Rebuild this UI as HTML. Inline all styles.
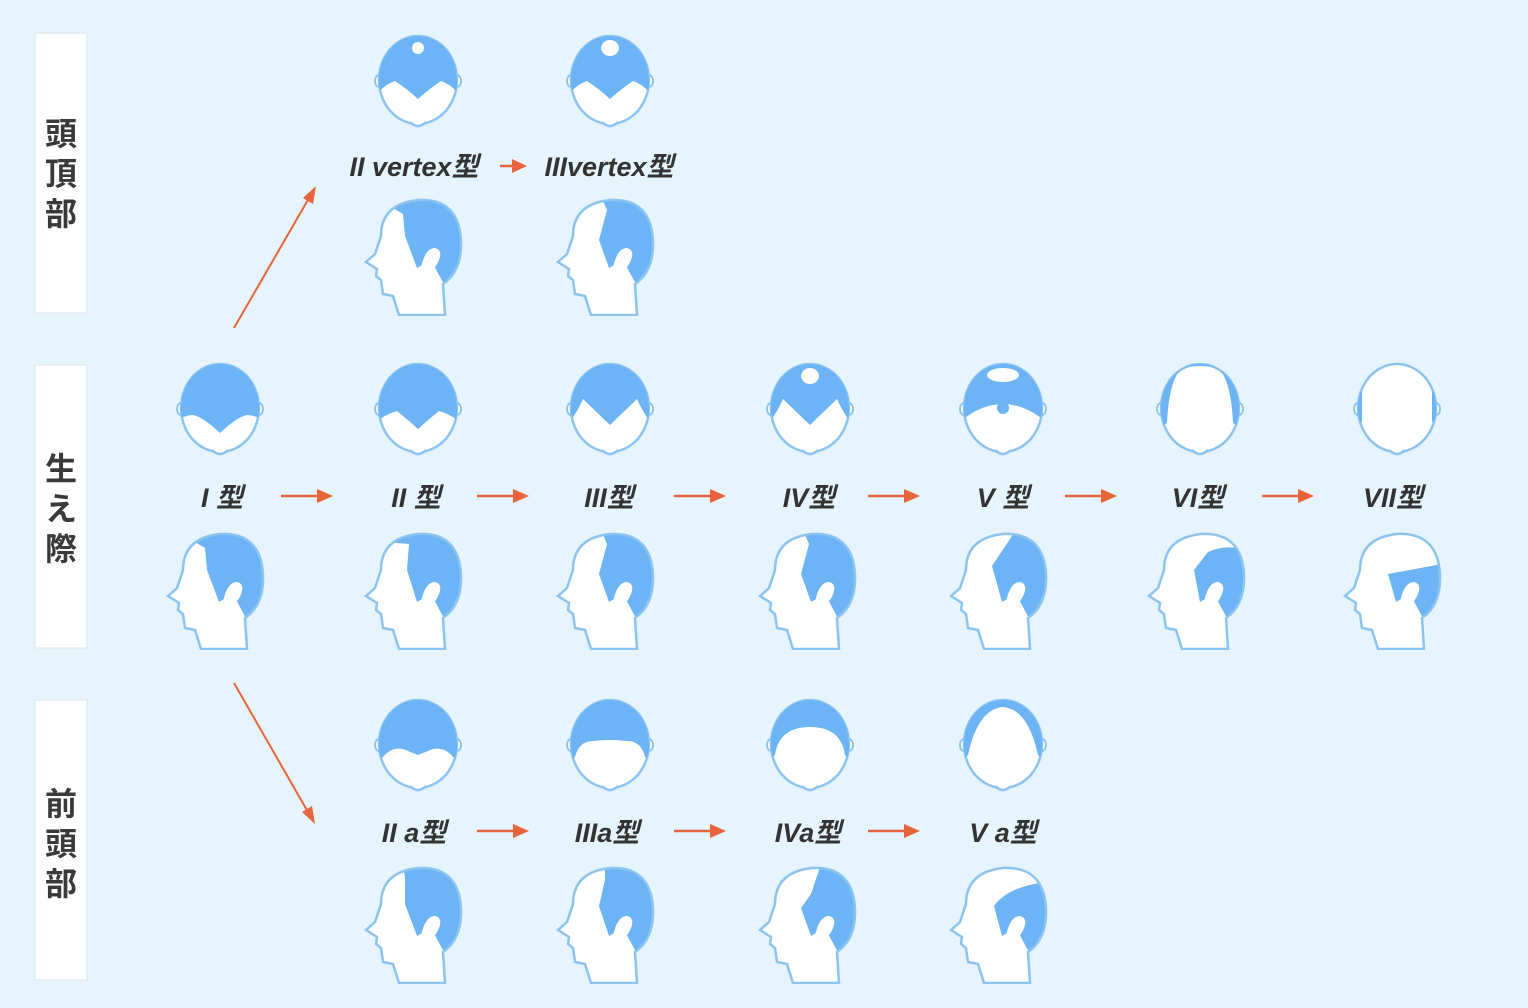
<!DOCTYPE html>
<html><head><meta charset="utf-8"><style>
html,body{margin:0;padding:0;background:#e6f4fd;}
svg{display:block}
.lb{font-family:"Liberation Sans","Noto Sans CJK JP",sans-serif;font-weight:bold;font-style:italic;font-size:27px;fill:#333;text-anchor:middle}
.vt{font-family:"Liberation Sans","Noto Sans CJK JP",sans-serif;font-weight:bold;font-size:32px;fill:#3a3a3a;text-anchor:middle}
</style></head><body>
<svg width="1528" height="1008" viewBox="0 0 1528 1008" xmlns="http://www.w3.org/2000/svg">
<defs>
<clipPath id="tc"><ellipse cx="45" cy="47" rx="39" ry="44"/></clipPath>
<clipPath id="sc"><path d="M36,119 L30,100 L20,98 L18,84 L13,80 L14,73 L3,66 L12,58 L18,40 Q18,8 55,4 Q96,2 98,45 Q99,75 80,88 L82,119Z"/></clipPath>
<g id="tbase">
<ellipse cx="6" cy="48" rx="4" ry="6" fill="#fff" stroke="#8cc4f0" stroke-width="2"/>
<ellipse cx="84" cy="48" rx="4" ry="6" fill="#fff" stroke="#8cc4f0" stroke-width="2"/>
<ellipse cx="45" cy="47" rx="39" ry="44" fill="#fff" stroke="#8cc4f0" stroke-width="2.5"/>
<path d="M37,89 Q45,97 53,89" fill="#fff" stroke="#8cc4f0" stroke-width="2.5"/>
</g>
<path id="sout" d="M36,119 L30,100 L20,98 L18,84 L13,80 L14,73 L3,66 L12,58 L18,40 Q18,8 55,4 Q96,2 98,45 Q99,75 80,88 L82,119Z" fill="none" stroke="#8cc4f0" stroke-width="2.5"/>
<path id="sbg" d="M36,119 L30,100 L20,98 L18,84 L13,80 L14,73 L3,66 L12,58 L18,40 Q18,8 55,4 Q96,2 98,45 Q99,75 80,88 L82,119Z" fill="#fff"/>
<path id="ear" d="M58,72 Q62,52 72,52 Q80,54 76,64 Q72,74 64,78Z" fill="#fff"/>

<symbol id="t1" viewBox="0 0 90 100"><use href="#tbase"/><path clip-path="url(#tc)" fill="#6cb4f5" d="M0,0H90V62Q82,54 72,54Q62,56 45,72Q28,56 18,54Q8,54 0,62Z"/></symbol>
<symbol id="t2" viewBox="0 0 90 100"><use href="#tbase"/><path clip-path="url(#tc)" fill="#6cb4f5" d="M0,0H90V64Q80,54 66,50Q56,58 45,68Q34,58 24,50Q10,54 0,64Z"/></symbol>
<symbol id="t3" viewBox="0 0 90 100"><use href="#tbase"/><path clip-path="url(#tc)" fill="#6cb4f5" d="M0,0H90V66Q80,56 72,38L45,64L18,38Q10,56 0,66Z"/></symbol>
<symbol id="t2v" viewBox="0 0 90 100"><use href="#tbase"/><path clip-path="url(#tc)" fill="#6cb4f5" d="M0,0H90V66Q80,52 68,48Q56,56 45,66Q34,56 22,48Q10,52 0,66Z"/><ellipse cx="45" cy="15" rx="6" ry="6" fill="#fff"/></symbol>
<symbol id="t3v" viewBox="0 0 90 100"><use href="#tbase"/><path clip-path="url(#tc)" fill="#6cb4f5" d="M0,0H90V66Q80,52 68,48Q56,56 45,66Q34,56 22,48Q10,52 0,66Z"/><ellipse cx="45" cy="15" rx="9" ry="8" fill="#fff"/></symbol>
<symbol id="t4" viewBox="0 0 90 100"><use href="#tbase"/><path clip-path="url(#tc)" fill="#6cb4f5" d="M0,0H90V66Q80,56 72,38L45,64L18,38Q10,56 0,66Z"/><ellipse cx="45" cy="15" rx="9" ry="8" fill="#fff"/></symbol>
<symbol id="t5" viewBox="0 0 90 100"><use href="#tbase"/><path clip-path="url(#tc)" fill="#6cb4f5" d="M0,0H90V66L82,56Q45,30 8,56L0,66Z"/><ellipse cx="45" cy="14" rx="16" ry="7" fill="#fff"/><circle cx="45" cy="47" r="6" fill="#6cb4f5"/></symbol>
<symbol id="t6" viewBox="0 0 90 100"><use href="#tbase"/><path clip-path="url(#tc)" fill="#6cb4f5" d="M0,0H90V70L78,62Q76,20 64,8Q45,2 26,8Q14,20 12,62L0,70Z"/></symbol>
<symbol id="t7" viewBox="0 0 90 100"><use href="#tbase"/><path clip-path="url(#tc)" fill="#6cb4f5" d="M0,30H10V60L6,64H0ZM80,30H90V64H84L80,60Z"/></symbol>
<symbol id="t2a" viewBox="0 0 90 100"><use href="#tbase"/><path clip-path="url(#tc)" fill="#6cb4f5" d="M0,0H90V66L80,60Q72,50 60,52L45,58L30,52Q18,50 10,60L0,66Z"/></symbol>
<symbol id="t3a" viewBox="0 0 90 100"><use href="#tbase"/><path clip-path="url(#tc)" fill="#6cb4f5" d="M0,0H90V66L80,60Q76,44 62,44Q45,42 28,44Q14,44 10,60L0,66Z"/></symbol>
<symbol id="t4a" viewBox="0 0 90 100"><use href="#tbase"/><path clip-path="url(#tc)" fill="#6cb4f5" d="M0,0H90V66L80,58Q76,30 45,30Q14,30 10,58L0,66Z"/></symbol>
<symbol id="t5a" viewBox="0 0 90 100"><use href="#tbase"/><path clip-path="url(#tc)" fill="#6cb4f5" d="M0,0H90V66L80,58Q70,12 45,10Q20,12 10,58L0,66Z"/></symbol>

<symbol id="s1" viewBox="0 0 100 120"><use href="#sbg"/><path clip-path="url(#sc)" fill="#6cb4f5" d="M18,0L100,0V88L82,90L68,64L54,72L42,40L40,18L30,12L18,12Z"/><use href="#ear"/><use href="#sout"/></symbol>
<symbol id="s2" viewBox="0 0 100 120"><use href="#sbg"/><path clip-path="url(#sc)" fill="#6cb4f5" d="M18,0L100,0V88L82,90L68,64L54,72L44,40L46,14L22,12Z"/><use href="#ear"/><use href="#sout"/></symbol>
<symbol id="s3" viewBox="0 0 100 120"><use href="#sbg"/><path clip-path="url(#sc)" fill="#6cb4f5" d="M46,0L100,0V88L82,90L68,64L54,72L44,44L52,14Z"/><use href="#ear"/><use href="#sout"/></symbol>
<symbol id="s5" viewBox="0 0 100 120"><use href="#sbg"/><path clip-path="url(#sc)" fill="#6cb4f5" d="M68,0L100,0V88L82,90L68,64L54,72L44,36Z"/><use href="#ear"/><use href="#sout"/></symbol>
<symbol id="s6" viewBox="0 0 100 120"><use href="#sbg"/><path clip-path="url(#sc)" fill="#6cb4f5" d="M62,22Q80,14 100,20V88L82,90L68,64L54,72L48,40Z"/><use href="#ear"/><use href="#sout"/></symbol>
<symbol id="s7" viewBox="0 0 100 120"><use href="#sbg"/><path clip-path="url(#sc)" fill="#6cb4f5" d="M46,44L100,34V88L82,90L68,64L54,72Z"/><use href="#ear"/><use href="#sout"/></symbol>
<symbol id="sa2" viewBox="0 0 100 120"><use href="#sbg"/><path clip-path="url(#sc)" fill="#6cb4f5" d="M40,0L100,0V88L82,90L68,64L54,72L42,40L42,14Z"/><use href="#ear"/><use href="#sout"/></symbol>
<symbol id="sa3" viewBox="0 0 100 120"><use href="#sbg"/><path clip-path="url(#sc)" fill="#6cb4f5" d="M50,0L100,0V88L82,90L68,64L54,72L44,42L50,16Z"/><use href="#ear"/><use href="#sout"/></symbol>
<symbol id="sa4" viewBox="0 0 100 120"><use href="#sbg"/><path clip-path="url(#sc)" fill="#6cb4f5" d="M64,0L100,0V88L82,90L68,64L54,72L44,44L54,30Z"/><use href="#ear"/><use href="#sout"/></symbol>
<symbol id="sa5" viewBox="0 0 100 120"><use href="#sbg"/><path clip-path="url(#sc)" fill="#6cb4f5" d="M100,18V88L82,90L68,64L54,72L46,42Q60,22 100,18Z"/><use href="#ear"/><use href="#sout"/></symbol>

<g id="arr"><line x1="0" y1="0" x2="38" y2="0" stroke="#e8643c" stroke-width="2.5"/><path d="M36,-7L52,0L36,7Z" fill="#e8643c"/></g>
</defs>

<rect x="35" y="33" width="52" height="280" fill="#fff" stroke="#dde6ee"/>
<rect x="35" y="365" width="52" height="283" fill="#fff" stroke="#dde6ee"/>
<rect x="35" y="700" width="52" height="280" fill="#fff" stroke="#dde6ee"/>
<text class="vt" x="61" y="145">頭</text><text class="vt" x="61" y="185">頂</text><text class="vt" x="61" y="225">部</text>
<text class="vt" x="61" y="480">生</text><text class="vt" x="61" y="520">え</text><text class="vt" x="61" y="560">際</text>
<text class="vt" x="61" y="815">前</text><text class="vt" x="61" y="855">頭</text><text class="vt" x="61" y="895">部</text>

<use href="#t2v" x="373" y="33" width="90" height="100"/>
<use href="#t3v" x="565" y="33" width="90" height="100"/>
<text class="lb" x="414" y="176">II vertex型</text>
<text class="lb" x="609" y="176">IIIvertex型</text>
<line x1="500" y1="166" x2="515" y2="166" stroke="#e8643c" stroke-width="2.5"/><path d="M512,159L527,166L512,173Z" fill="#e8643c"/>
<use href="#s1" x="363" y="196" width="100" height="120"/>
<use href="#s3" x="555" y="196" width="100" height="120"/>

<use href="#t1" x="175" y="361" width="90" height="100"/>
<use href="#t2" x="373" y="361" width="90" height="100"/>
<use href="#t3" x="565" y="361" width="90" height="100"/>
<use href="#t4" x="765" y="361" width="90" height="100"/>
<use href="#t5" x="958" y="361" width="90" height="100"/>
<use href="#t6" x="1155" y="361" width="90" height="100"/>
<use href="#t7" x="1352" y="361" width="90" height="100"/>
<text class="lb" x="222" y="507">I 型</text>
<text class="lb" x="416" y="507">II 型</text>
<text class="lb" x="609" y="507">III型</text>
<text class="lb" x="809" y="507">IV型</text>
<text class="lb" x="1003" y="507">V 型</text>
<text class="lb" x="1198" y="507">VI型</text>
<text class="lb" x="1393" y="507">VII型</text>
<use href="#arr" x="281" y="496"/><use href="#arr" x="477" y="496"/><use href="#arr" x="674" y="496"/>
<use href="#arr" x="868" y="496"/><use href="#arr" x="1065" y="496"/><use href="#arr" x="1262" y="496"/>
<use href="#s1" x="165" y="530" width="100" height="120"/>
<use href="#s2" x="363" y="530" width="100" height="120"/>
<use href="#s3" x="555" y="530" width="100" height="120"/>
<use href="#s3" x="757" y="530" width="100" height="120"/>
<use href="#s5" x="948" y="530" width="100" height="120"/>
<use href="#s6" x="1146" y="530" width="100" height="120"/>
<use href="#s7" x="1342" y="530" width="100" height="120"/>

<line x1="234" y1="328" x2="309" y2="198" stroke="#e8643c" stroke-width="2"/>
<path d="M316,186L313,204L303,198Z" fill="#e8643c"/>
<line x1="234" y1="683" x2="308" y2="812" stroke="#e8643c" stroke-width="2"/>
<path d="M315,824L302,812L312,806Z" fill="#e8643c"/>

<use href="#t2a" x="373" y="697" width="90" height="100"/>
<use href="#t3a" x="565" y="697" width="90" height="100"/>
<use href="#t4a" x="765" y="697" width="90" height="100"/>
<use href="#t5a" x="958" y="697" width="90" height="100"/>
<text class="lb" x="414" y="842">II a型</text>
<text class="lb" x="607" y="842">IIIa型</text>
<text class="lb" x="808" y="842">IVa型</text>
<text class="lb" x="1003" y="842">V a型</text>
<use href="#arr" x="477" y="831"/><use href="#arr" x="674" y="831"/><use href="#arr" x="868" y="831"/>
<use href="#sa2" x="363" y="864" width="100" height="120"/>
<use href="#sa3" x="555" y="864" width="100" height="120"/>
<use href="#sa4" x="757" y="864" width="100" height="120"/>
<use href="#sa5" x="948" y="864" width="100" height="120"/>
</svg>
</body></html>
